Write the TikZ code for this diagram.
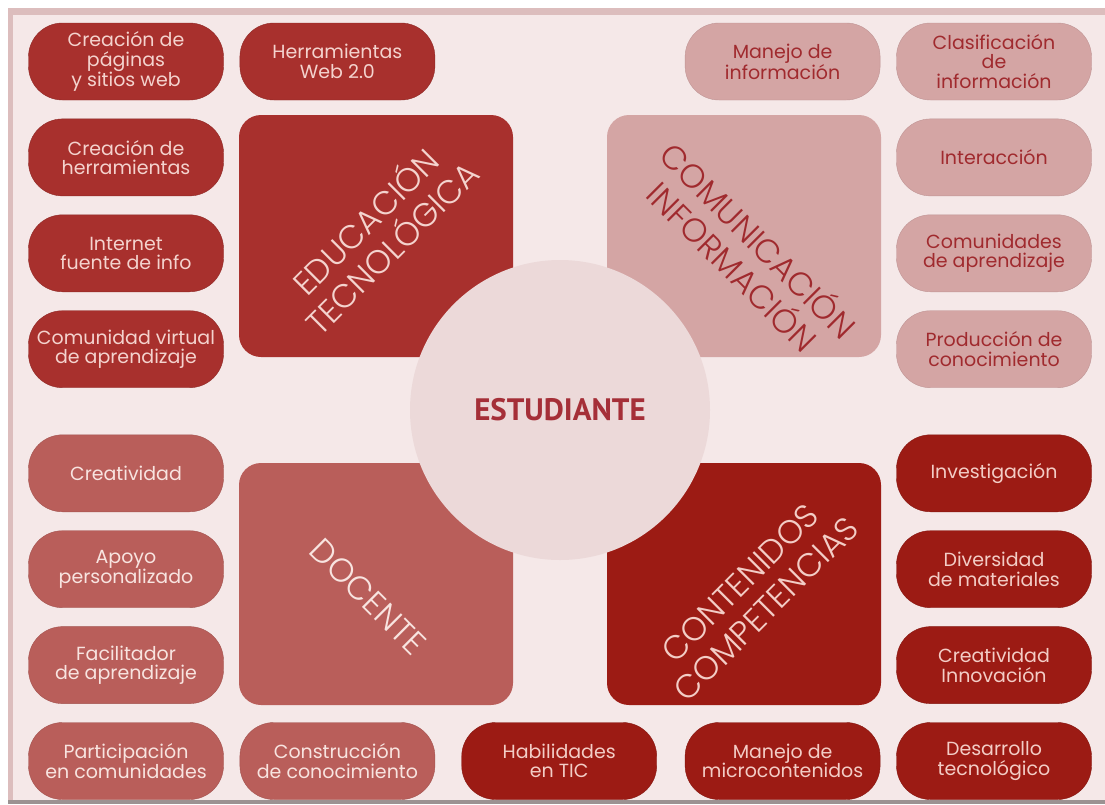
\documentclass[tikz,border=0pt]{standalone}
\usepackage{fontspec}
\setmainfont{Poppins}
\newfontfamily\rotulo{PT Sans}
\newfontfamily\ligera{Poppins Light}
\usepackage{xcolor}
\usepackage{tikz}
\usetikzlibrary{positioning}
\definecolor{fondo}{HTML}{F5E8E8}
\definecolor{marco}{HTML}{DCBDBD}
\definecolor{borde}{HTML}{9C9292}
\definecolor{rojoEdu}{HTML}{A8302D}
\definecolor{rosaCom}{HTML}{D4A5A4}
\definecolor{rojoDoc}{HTML}{B95E5A}
\definecolor{rojoCont}{HTML}{9C1B14}
\definecolor{circulo}{HTML}{ECD9D9}
\definecolor{claroEdu}{HTML}{F4D3CE}
\definecolor{claroDoc}{HTML}{F8E4E0}
\definecolor{claroCont}{HTML}{F3CDC6}
\definecolor{oscuroCom}{HTML}{A02A2E}
\definecolor{tituloCentro}{HTML}{A52F38}
\tikzset{
  pastilla/.style={rectangle,rounded corners=34pt,minimum width=195pt,minimum height=77pt,
    inner sep=0pt,align=center,font=\fontsize{19}{19.5}\selectfont},
  edu/.style={pastilla,fill=rojoEdu,draw=rojoEdu!85!black,text=claroEdu},
  com/.style={pastilla,fill=rosaCom,draw=rosaCom!90!black,text=oscuroCom},
  doc/.style={pastilla,fill=rojoDoc,draw=rojoDoc!88!black,text=claroDoc},
  cont/.style={pastilla,fill=rojoCont,draw=rojoCont!85!black,text=claroCont},
  bloque/.style={rectangle,rounded corners=22pt,minimum width=274pt,minimum height=242pt,inner sep=0pt},
  titulo/.style={align=center,inner sep=0pt,font=\ligera\fontsize{33}{37}\selectfont},
  centro/.style={circle,minimum size=300pt,inner sep=0pt,fill=circulo,text=tituloCentro,
    font=\rotulo\bfseries\fontsize{31}{35}\selectfont}
}
\begin{document}
\begin{tikzpicture}[x=1pt,y=-1pt,node distance=18.5pt and 16pt]
\useasboundingbox (0,0) rectangle (1105,804);
\fill[white] (0,0) rectangle (1105,804);
\fill[fondo] (8,8) rectangle (1105,800);
\fill[marco] (8,8) rectangle (1105,15);
\fill[marco] (8,8) rectangle (13,800);
\fill[borde] (8,800) rectangle (1105,804);
\node[bloque,fill=rojoEdu] (educacion) at (376,236) {};
\node[bloque,fill=rosaCom] (comunicacion) at (744,236) {};
\node[bloque,fill=rojoDoc] (docente) at (376,584) {};
\node[bloque,fill=rojoCont] (contenidos) at (744,584) {};
\node[titulo,rotate=45,text=claroEdu] (educacionTxt) at (377,233) {EDUCACIÓN\\TECNOLÓGICA};
\node[titulo,rotate=-45,text=oscuroCom] (comunicacionTxt) at (747,252) {COMUNICACIÓN\\INFORMACIÓN};
\node[titulo,rotate=-45,text=claroDoc] (docenteTxt) at (368,597) {DOCENTE};
\node[titulo,rotate=45,text=claroCont] (contenidosTxt) at (753,596) {CONTENIDOS\\COMPETENCIAS};
\node[centro] (estudiante) at (560,410) {ESTUDIANTE};
\node[edu] (paginas) at (126,61.5) {Creación de\\páginas\\y sitios web};
\node[edu,right=of paginas] (web) {Herramientas\\Web 2.0};
\node[edu,below=of paginas] (herramientas) {Creación de\\herramientas};
\node[edu,below=of herramientas] (internet) {Internet\\fuente de info};
\node[edu,below=of internet] (virtual) {Comunidad virtual\\de aprendizaje};
\node[com] (clasificacion) at (994,61.5) {Clasificación\\de\\información};
\node[com,left=of clasificacion] (manejo) {Manejo de\\información};
\node[com,below=of clasificacion] (interaccion) {Interacción};
\node[com,below=of interaccion] (comunidades) {Comunidades\\de aprendizaje};
\node[com,below=of comunidades] (produccion) {Producción de\\conocimiento};
\node[doc] (participacion) at (126,761) {Participación\\en comunidades};
\node[doc,above=of participacion] (facilitador) {Facilitador\\de aprendizaje};
\node[doc,above=of facilitador] (apoyo) {Apoyo\\personalizado};
\node[doc,above=of apoyo] (creatividad) {Creatividad};
\node[doc,right=of participacion] (construccion) {Construcción\\de conocimiento};
\node[cont] (desarrollo) at (994,761) {Desarrollo\\tecnológico};
\node[cont,above=of desarrollo] (innovacion) {Creatividad\\Innovación};
\node[cont,above=of innovacion] (diversidad) {Diversidad\\de materiales};
\node[cont,above=of diversidad] (investigacion) {Investigación};
\node[cont,left=of desarrollo] (micro) {Manejo de\\microcontenidos};
\node[cont,left=28pt of micro] (habilidades) {Habilidades\\en TIC};
\end{tikzpicture}
\end{document}
